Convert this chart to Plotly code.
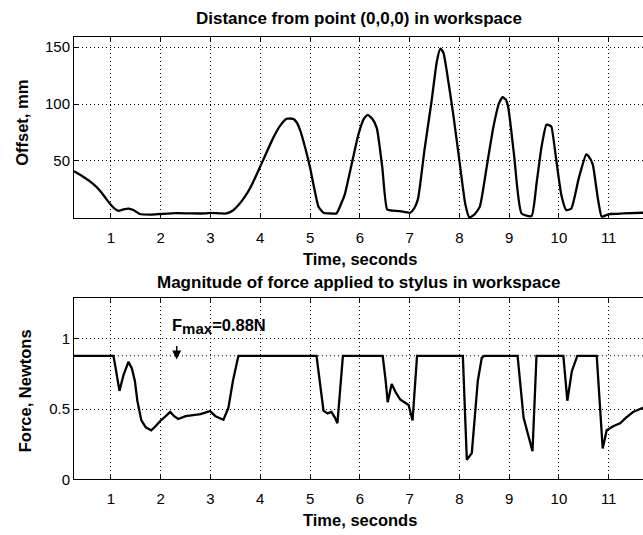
import plotly.graph_objects as go

# ---------------- data ----------------
t_dist = [0.257, 0.45, 0.64, 0.78, 0.9, 0.98, 1.08, 1.15, 1.25, 1.35, 1.45, 1.58, 1.8, 2.0, 2.3,
          2.6, 2.9, 3.0, 3.2, 3.32, 3.45, 3.53, 3.63, 3.73, 3.85, 3.99, 4.1, 4.26, 4.4, 4.53,
          4.66, 4.73, 4.80, 4.9, 5.0, 5.08, 5.17, 5.27, 5.4, 5.53, 5.62, 5.70, 5.85, 5.97, 6.08,
          6.16, 6.25, 6.34, 6.45, 6.55, 6.65, 6.81, 7.01, 7.1, 7.17, 7.3, 7.44, 7.55, 7.62, 7.68,
          7.74, 7.88, 8.01, 8.12, 8.20, 8.3, 8.41, 8.55, 8.68, 8.80, 8.87, 8.93, 8.98, 9.1, 9.25,
          9.45, 9.55, 9.65, 9.75, 9.82, 9.85, 9.95, 10.05, 10.15, 10.25, 10.4, 10.55, 10.6, 10.68,
          10.78, 10.86, 10.95, 11.03, 11.3, 11.69]
offset_mm = [41, 36, 30, 24, 17, 12.6, 8, 6.3, 7.5, 8.3, 7, 3.5, 3, 3.5, 4.2,
             4, 4, 4.5, 4, 4, 6.5, 9.8, 15, 21.3, 31, 44.3, 55, 70.3, 81, 87,
             87, 84, 77, 62, 44.3, 27, 9.8, 4.6, 4, 4, 12, 21, 50, 73, 87,
             90.4, 87, 79, 45, 7.4, 6.5, 6, 4.6, 9, 17, 60, 102, 138, 148.6, 145,
             130.8, 90, 47.2, 12, 0.5, 3, 9.8, 45, 79, 101, 106, 104, 97.7, 55, 4,
             1.7, 30, 62, 81.8, 81, 80, 50, 20, 6.9, 8.3, 35, 55.8, 54, 47,
             18, 1.1, 2.5, 3.5, 4, 4.6]

t_force = [0.257, 1.05, 1.10, 1.17, 1.25, 1.35, 1.42, 1.48, 1.53, 1.61, 1.7, 1.81, 1.9, 1.99,
           2.1, 2.19, 2.27, 2.35, 2.5, 2.65, 2.8, 2.99, 3.1, 3.26, 3.36, 3.45, 3.56, 5.13, 5.2,
           5.27, 5.35, 5.43, 5.5, 5.55, 5.66, 6.46, 6.52, 6.56, 6.64, 6.72, 6.81, 6.9, 6.98, 7.06,
           7.15, 8.07, 8.15, 8.25, 8.3, 8.37, 8.45, 8.50, 9.17, 9.29, 9.38, 9.47, 9.55, 10.09,
           10.17, 10.22, 10.26, 10.37, 10.76, 10.88, 10.96, 11.1, 11.23, 11.35, 11.49, 11.69]
force_n = [0.88, 0.88, 0.78, 0.63, 0.74, 0.837, 0.79, 0.70, 0.56, 0.42, 0.37, 0.35, 0.38, 0.416,
           0.45, 0.48, 0.45, 0.43, 0.45, 0.46, 0.465, 0.486, 0.45, 0.425, 0.51, 0.70, 0.88, 0.88, 0.70,
           0.49, 0.47, 0.48, 0.44, 0.40, 0.88, 0.88, 0.70, 0.55, 0.68, 0.62, 0.57, 0.55, 0.53, 0.42,
           0.88, 0.88, 0.14, 0.187, 0.42, 0.70, 0.865, 0.88, 0.88, 0.44, 0.32, 0.20, 0.88, 0.88,
           0.56, 0.70, 0.77, 0.88, 0.88, 0.22, 0.35, 0.38, 0.40, 0.44, 0.48, 0.51]

F_MAX = 0.88
x_ticks = [1, 2, 3, 4, 5, 6, 7, 8, 9, 10, 11]
top_yticks = [50, 100, 150]
bot_yticks = [0, 0.5, 1]
bot_yticklabels = ["0", "0.5", "1"]

# ---------------- layout helpers (pixel -> paper) ----------------
W, H = 643, 535
def px(x):
    return x / W
def py(y):
    return 1 - y / H

XRANGE = [0.257, 11.69]
FONT = "Liberation Sans, Arial, sans-serif"

fig = go.Figure()
fig.add_trace(go.Scatter(x=t_dist, y=offset_mm, mode="lines",
                         line=dict(color="black", width=2.3, shape="spline", smoothing=0.5),
                         xaxis="x", yaxis="y", showlegend=False, hoverinfo="skip"))
fig.add_trace(go.Scatter(x=XRANGE, y=[F_MAX, F_MAX], mode="lines",
                         line=dict(color="black", width=1, dash="1px,3px"), xaxis="x2", yaxis="y2",
                         showlegend=False, hoverinfo="skip"))
fig.add_trace(go.Scatter(x=t_force, y=force_n, mode="lines",
                         line=dict(color="black", width=2.3), xaxis="x2", yaxis="y2",
                         showlegend=False, hoverinfo="skip"))

axis_common = dict(showline=True, linecolor="black", linewidth=1,
                   ticks="inside", ticklen=5, tickcolor="black", tickwidth=1,
                   showgrid=True, gridcolor="black", gridwidth=1, griddash="1px,3px",
                   zeroline=False, tickfont=dict(family=FONT, size=15, color="black"))

fig.update_layout(
    width=W, height=H,
    margin=dict(l=0, r=0, t=0, b=0),
    paper_bgcolor="white", plot_bgcolor="white",
    xaxis=dict(domain=[px(74), 1], range=XRANGE, tickvals=x_ticks, anchor="y",
               mirror="ticks", ticklabelstandoff=6, **axis_common),
    yaxis=dict(domain=[py(221.3), py(37.3)], range=[0, 159], tickvals=top_yticks,
               anchor="x", mirror=False, **axis_common),
    xaxis2=dict(domain=[px(74), 1], range=XRANGE, tickvals=x_ticks, anchor="y2",
                mirror="ticks", ticklabelstandoff=6, **axis_common),
    yaxis2=dict(domain=[py(486.7), py(302.7)], range=[0, 1.29], tickvals=bot_yticks,
                ticktext=bot_yticklabels, anchor="x2", mirror=False, **axis_common),
)

bold = dict(family=FONT, size=17, color="black", weight="bold")
lab = dict(family=FONT, size=16.5, color="black", weight="bold")
anns = [
    dict(text="Distance from point (0,0,0) in workspace", x=px(358.5), y=py(18.5), font=bold),
    dict(text="Magnitude of force applied to stylus in workspace", x=px(358.5), y=py(286.5), font=bold),
    dict(text="Time, seconds", x=px(360), y=py(263), font=lab),
    dict(text="Time, seconds", x=px(360), y=py(528), font=lab),
    dict(text="Offset, mm", x=px(21.7), y=py(125), font=lab, textangle=-90),
    dict(text="Force, Newtons", x=px(24.5), y=py(396.7), font=lab, textangle=-90),
]
for a in anns:
    fig.add_annotation(xref="paper", yref="paper", showarrow=False,
                       xanchor="center", yanchor="middle", **a)
fig.add_annotation(xref="paper", yref="paper", showarrow=False, xanchor="left", yanchor="middle",
                   x=px(170), y=py(331),
                   text="F<sub><span style='font-size:15px'>max</span></sub>=0.88N",
                   font=dict(family=FONT, size=16.5, color="black", weight="bold"))
# small downward arrow pointing at the F_max line
fig.add_annotation(xref="paper", yref="paper", x=px(176.7), y=py(365), ax=0, ay=-15,
                   axref="pixel", ayref="pixel", text="", showarrow=True,
                   arrowhead=2, arrowsize=1.2, arrowwidth=1.5, arrowcolor="black")

fig.write_html("out.html")
